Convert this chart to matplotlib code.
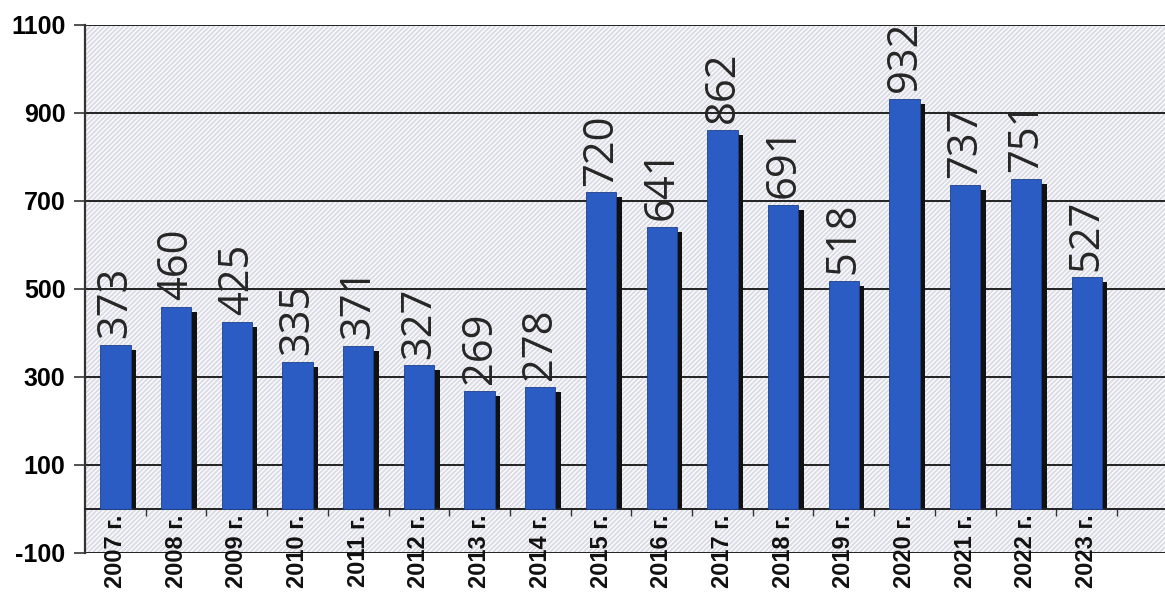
import matplotlib
matplotlib.use("Agg")
import matplotlib.pyplot as plt
from matplotlib.patches import Rectangle

years = ["2007 г.", "2008 г.", "2009 г.", "2010 г.", "2011 г.", "2012 г.", "2013 г.", "2014 г.",
         "2015 г.", "2016 г.", "2017 г.", "2018 г.", "2019 г.", "2020 г.", "2021 г.", "2022 г.", "2023 г."]
values = [373, 460, 425, 335, 371, 327, 269, 278, 720, 641, 862, 691, 518, 932, 737, 751, 527]
yticks = [-100, 100, 300, 500, 700, 900, 1100]

plt.rcParams['hatch.linewidth'] = 0.9
plt.rcParams['hatch.color'] = 'white'

fig = plt.figure(figsize=(11.65, 5.96), dpi=100)
ax = fig.add_axes([85/1165, (596-553)/596, 1 - 85/1165, (553-25)/596])

n = len(values)
x = list(range(n))
ax.set_xlim(-0.5, 17.29)
ax.set_ylim(-100, 1100)

# hatched background
ax.set_facecolor('#dcdce6')
bg = Rectangle((0, 0), 1, 1, transform=ax.transAxes, facecolor='none',
               edgecolor='white', hatch='///////', linewidth=0, zorder=0)
ax.add_patch(bg)

# gridlines
for t in yticks:
    ax.axhline(t, color='#222222', lw=1.4, zorder=1)

# shadows + bars
w = 0.5
ax.bar([xi + 0.09 for xi in x], [v - 12 for v in values], width=w, color='#111111', zorder=2)
ax.bar(x, values, width=w, color='#2a5cc4', edgecolor='#1d3f8a', linewidth=0.6, zorder=3)

for xi, v in zip(x, values):
    ax.text(xi, v + 15, str(v), rotation=90, ha='center', va='bottom',
            fontsize=30, family='Open Sans', color='#262626', zorder=4)

ax.set_yticks(yticks)
ax.set_yticklabels([str(t) for t in yticks], fontsize=18, fontweight='bold', family='Liberation Sans')
ax.tick_params(axis='y', length=8, width=1.2, color='#333333', pad=6)

ax.spines['bottom'].set_position(('data', 0))
ax.spines['bottom'].set_color('#222222')
ax.spines['bottom'].set_linewidth(1.4)
ax.spines['left'].set_color('#333333')
ax.spines['left'].set_linewidth(1.6)
ax.spines['top'].set_visible(False)
ax.spines['right'].set_visible(False)

ax.set_xticks(x)
ax.set_xticklabels(years, rotation=90, fontsize=17, fontweight='bold', family='Liberation Sans', color='#111111')
ax.tick_params(axis='x', length=0, pad=4)
ax.set_xticks([xi + 0.5 for xi in x], minor=True)
ax.tick_params(axis='x', which='minor', length=5, width=1.0, color='#333333')

fig.savefig('out.png', dpi=100)
